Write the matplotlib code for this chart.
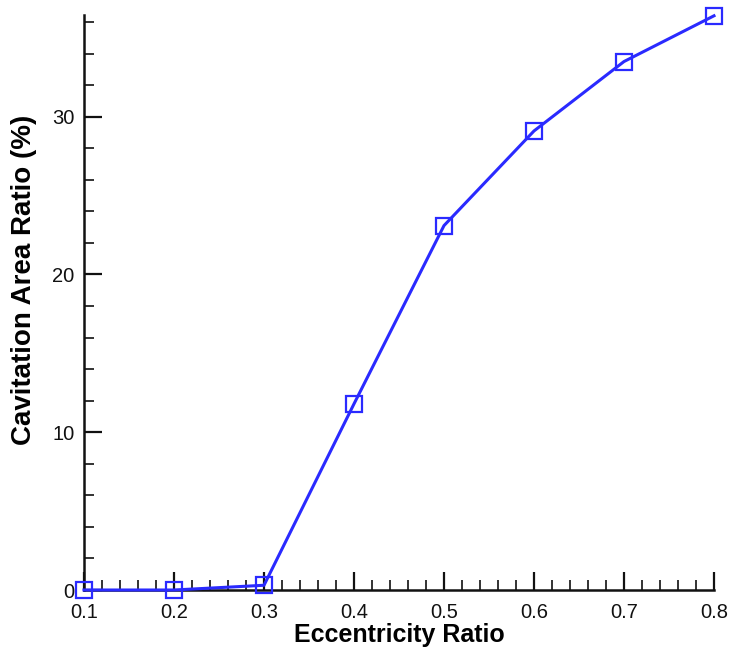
import matplotlib
matplotlib.use("Agg")
import matplotlib.pyplot as plt
from matplotlib.ticker import MultipleLocator

plt.rcParams['font.family'] = ['Liberation Sans', 'DejaVu Sans']

eccentricity = [0.1, 0.2, 0.3, 0.4, 0.5, 0.6, 0.7, 0.8]
cavitation_ratio = [0.0, 0.0, 0.3, 11.8, 23.1, 29.1, 33.5, 36.4]
x_ticks = [0.1, 0.2, 0.3, 0.4, 0.5, 0.6, 0.7, 0.8]
y_ticks = [0, 10, 20, 30]

fig = plt.figure(figsize=(7.32, 6.47), dpi=100)
ax = fig.add_axes([84 / 732, 1 - 590 / 647, (714 - 84) / 732, (590 - 15) / 647])

ax.plot(eccentricity, cavitation_ratio, color='#2a2aff', linewidth=2.2,
        marker='s', markersize=11, markerfacecolor='none',
        markeredgecolor='#2a2aff', markeredgewidth=1.6, clip_on=False, zorder=5)

ax.set_xlim(0.1, 0.8)
ax.set_ylim(0, 36.45)
ax.set_xticks(x_ticks)
ax.set_xticklabels([f"{v:g}" for v in x_ticks])
ax.set_yticks(y_ticks)
ax.xaxis.set_minor_locator(MultipleLocator(0.02))
ax.yaxis.set_minor_locator(MultipleLocator(2))

for side in ('top', 'right'):
    ax.spines[side].set_visible(False)
for side in ('left', 'bottom'):
    ax.spines[side].set_linewidth(1.8)
    ax.spines[side].set_color('#111111')

ax.tick_params(which='major', direction='in', length=13, width=1.6,
               labelsize=14.5, colors='#111111')
ax.tick_params(which='minor', direction='in', length=7, width=1.2, colors='#111111')
ax.tick_params(axis='x', which='major', pad=9)
ax.tick_params(axis='y', which='major', pad=7)

ax.set_xlabel('Eccentricity Ratio', fontsize=18, fontweight='bold', labelpad=1)
ax.set_ylabel('Cavitation Area Ratio (%)', fontsize=20, fontweight='bold')
ax.yaxis.set_label_coords(-0.074, 0.54)

fig.savefig('out.png', dpi=100)
